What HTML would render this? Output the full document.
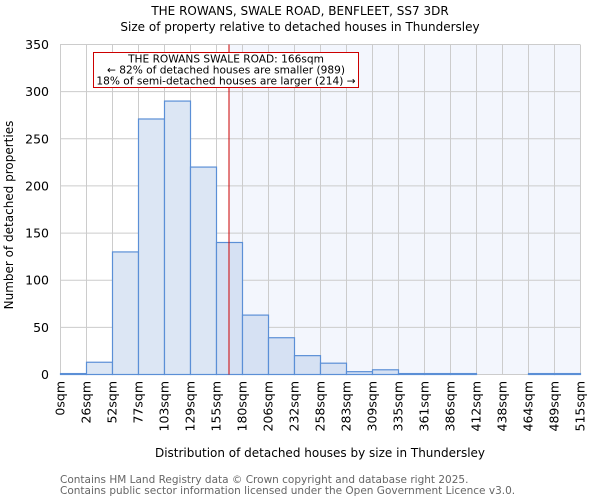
<!DOCTYPE html>
<html><head><meta charset="utf-8"><style>body{margin:0;background:#fff}svg{display:block}text{font-family:"DejaVu Sans","Liberation Sans",sans-serif}</style></head><body>
<svg width="600" height="500" xmlns="http://www.w3.org/2000/svg">
<text x="300" y="15" font-size="12" text-anchor="middle">THE ROWANS, SWALE ROAD, BENFLEET, SS7 3DR</text>
<text x="300" y="31" font-size="12" text-anchor="middle">Size of property relative to detached houses in Thundersley</text>
<rect x="229" y="44.5" width="351" height="330" fill="#f3f6fd"/>
<g id="grid" stroke="#cccccc" stroke-width="1"></g>
<g id="bars"></g>
<line x1="229" y1="44.5" x2="229" y2="374.5" stroke="#cc0000" stroke-width="1"/>
<rect x="93.5" y="52.5" width="265" height="35" fill="#fff" stroke="#cc0000"/>
<text font-size="10.6" text-anchor="middle"><tspan x="226" y="62.5">THE ROWANS SWALE ROAD: 166sqm</tspan><tspan x="226" y="73.5">← 82% of detached houses are smaller (989)</tspan><tspan x="226" y="84.5">18% of semi-detached houses are larger (214) →</tspan></text>
<g id="yl" font-size="12.5" text-anchor="end"></g>
<g id="xl" font-size="12.5" text-anchor="end"></g>
<text transform="translate(13,215) rotate(-90)" font-size="12" text-anchor="middle">Number of detached properties</text>
<text x="320" y="457" font-size="12" text-anchor="middle">Distribution of detached houses by size in Thundersley</text>
<text x="60" y="483" font-size="10.5" fill="#666">Contains HM Land Registry data © Crown copyright and database right 2025.</text>
<text x="60" y="494" font-size="10.5" fill="#666">Contains public sector information licensed under the Open Government Licence v3.0.</text>
</svg>
<script>
const ns="http://www.w3.org/2000/svg";
function el(p,t,a,txt){const e=document.createElementNS(ns,t);for(const k in a)e.setAttribute(k,a[k]);if(txt!==undefined)e.textContent=txt;document.getElementById(p).appendChild(e);}
const x0=60,bw=26,y0=374.5,s=330/350;
const labels=["0sqm","26sqm","52sqm","77sqm","103sqm","129sqm","155sqm","180sqm","206sqm","232sqm","258sqm","283sqm","309sqm","335sqm","361sqm","386sqm","412sqm","438sqm","464sqm","489sqm","515sqm"];
for(let i=0;i<=20;i++){const x=x0+i*bw+0.5;el("grid","line",{x1:x,y1:44.5,x2:x,y2:y0});
el("xl","text",{transform:`translate(${x+4},381) rotate(-90)`},labels[i]);}
for(let v=0;v<=350;v+=50){const y=y0-v*s;el("grid","line",{x1:60,y1:y,x2:580,y2:y});el("yl","text",{x:49,y:y+4.5},v);}
const d=[1,13,130,271,290,220,140,63,39,20,12,3,5,1,1,1,0,0,1,1];
d.forEach((v,i)=>{if(!v)return;const x=x0+i*bw+0.5,h=v*s;el("bars","rect",{x:x,y:y0-h,width:bw,height:h,fill:i>=6?"#d6e1f3":"#dce6f4",stroke:"#5b8fd6","stroke-width":1.2});});
</script>
</body></html>
